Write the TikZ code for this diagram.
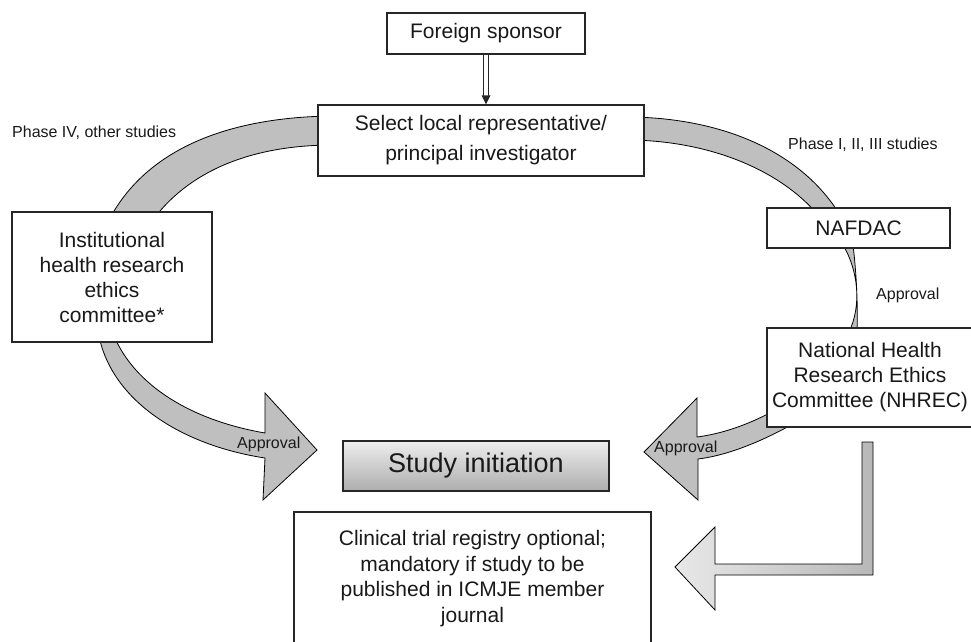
\documentclass[tikz,border=0pt]{standalone}
\usepackage{fontspec}
\setmainfont{Liberation Sans}
\usetikzlibrary{arrows.meta}
\begin{document}
\begin{tikzpicture}[x=1pt,y=-1pt,
  box/.style={draw=black!85, line width=1.1pt, fill=white, inner sep=0pt, align=center,
    font=\fontsize{21}{25}\selectfont, text=black!90},
  band/.style={draw=black, line width=0.8pt, fill=black!25},
  small/.style={font=\fontsize{16}{19}\selectfont, inner sep=0pt, anchor=west, text=black!90},
  dbl/.style={double=white, double distance=3.5pt, line width=0.9pt, draw=black!85}
]
\useasboundingbox (0,0) rectangle (971,641);

% ---- bands (behind boxes)
\path[band] (330,116) .. controls (210,118) and (130,160) .. (100,240)
  -- (140,240) .. controls (170,185) and (230,146) .. (330,145) -- cycle;
\path[band] (99,336) .. controls (112,400) and (180,445) .. (265,458)
  -- (263,500) -- (317,450) -- (265,393) -- (265,433)
  .. controls (190,420) and (135,385) .. (114,336) -- cycle;
\path[band] (630,117) .. controls (720,118) and (800,150) .. (840,215)
  -- (818,215) .. controls (780,170) and (710,141) .. (630,140) -- cycle;
\path[band] (843,245) .. controls (858,270) and (862,305) .. (849,332)
  -- (857,332) .. controls (858,300) and (856,270) .. (853,245) -- cycle;
\path[band] (800,395) .. controls (770,415) and (735,432) .. (697,437)
  -- (697,398) -- (644,452) -- (698,500) -- (698,459)
  .. controls (730,455) and (765,440) .. (800,420) -- cycle;
\path[draw=black, line width=0.8pt, left color=black!9, right color=black!28]
  (862,442) -- (873,442) -- (873,575) -- (715,575) -- (715,610) -- (675,567)
  -- (715,527) -- (715,564) -- (862,564) -- cycle;

% ---- boxes
\node[box, minimum width=198pt, minimum height=41pt] (sponsor) at (486,33.5) {Foreign sponsor};
\node[box, minimum width=326pt, minimum height=71pt, font=\fontsize{21}{30}\selectfont] (select) at (481,140.5)
  {Select local representative/\\principal investigator};
\node[box, minimum width=200pt, minimum height=130pt] (inst) at (112,277)
  {Institutional\\health research\\ethics\\committee*};
\node[box, minimum width=183pt, minimum height=40pt] (nafdac) at (858.5,228) {NAFDAC};
\node[box, minimum width=206pt, minimum height=99pt] (nhrec) at (870,377.5)
  {National Health\\Research Ethics\\Committee (NHREC)};
\node[box, minimum width=266pt, minimum height=50pt, top color=black!7, bottom color=black!32,
  font=\fontsize{27}{32}\selectfont] (study) at (476,466) {Study initiation};
\node[box, minimum width=357pt, minimum height=133pt, font=\fontsize{21}{25.7}\selectfont] (clin) at (472.5,578.5)
  {Clinical trial registry optional;\\mandatory if study to be\\published in ICMJE member\\journal};

% ---- sponsor -> select double arrow
\draw[dbl] (sponsor.south) -- ([yshift=8pt]sponsor.south |- select.north);
\fill[black!85] (sponsor.south |- select.north) -- ++(-4.5,-9) -- ++(9,0) -- cycle;

% ---- labels
\node[small] (l1) at (12,133) {Phase IV, other studies};
\node[small] (l2) at (788,145) {Phase I, II, III studies};
\node[small] (a1) at (876,295) {Approval};
\node[small] (a2) at (237,444) {Approval};
\node[small] (a3) at (654,448) {Approval};
\end{tikzpicture}
\end{document}
